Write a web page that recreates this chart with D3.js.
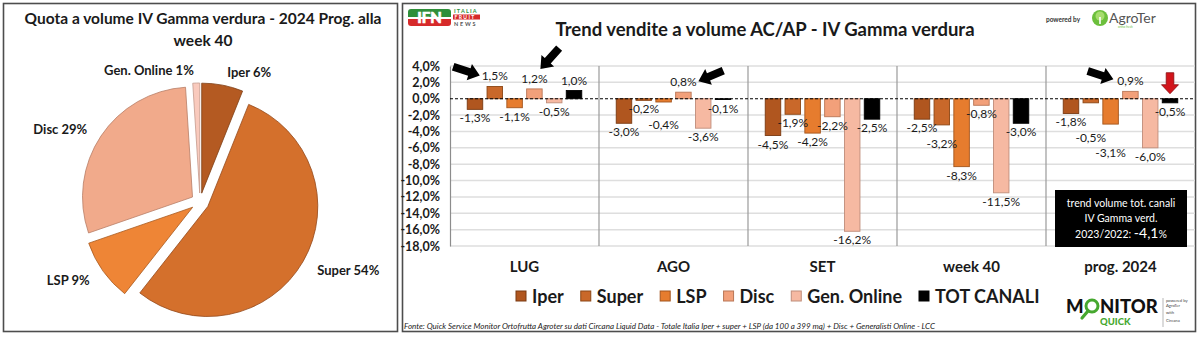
<!DOCTYPE html>
<html>
<head>
<meta charset="utf-8">
<script src="https://cdn.jsdelivr.net/npm/d3@7"></script>
<style>
  html, body { margin: 0; padding: 0; background: #fff; }
  svg { display: block; font-family: Lato, "Open Sans", sans-serif; }
</style>
</head>
<body>
<svg id="chart" width="1200" height="338"></svg>
<script>
// ---- Share of volume, 2024 progressive to week 40 ----
const shareLabels = ["Iper", "Super", "LSP", "Disc", "Gen. Online"];
const shareValues = [6, 54, 9, 29, 1];

// ---- Volume trend AC/AP by channel ----
const categories = ["LUG", "AGO", "SET", "week 40", "prog. 2024"];
const seriesNames = ["Iper", "Super", "LSP", "Disc", "Gen. Online", "TOT CANALI"];
const iper      = [-1.3, -3.0, -4.5, -2.5, -1.8];
const superMkt  = [ 1.5, -0.2, -1.9, -3.2, -0.5];
const lsp       = [-1.1, -0.4, -4.2, -8.3, -3.1];
const disc      = [ 1.2,  0.8, -2.2, -0.8,  0.9];
const genOnline = [-0.5, -3.6, -16.2, -11.5, -6.0];
const totCanali = [ 1.0, -0.1, -2.5, -3.0, -0.5];
const yTicks = [4, 2, 0, -2, -4, -6, -8, -10, -12, -14, -16, -18];
const totalTrend2023 = -4.1;

const seriesValues = [iper, superMkt, lsp, disc, genOnline, totCanali];

const svg = d3.select("#chart");
const fmt = v => v.toFixed(1).replace(".", ",") + "%";

// ---------- panel frames ----------
svg.append("rect").attr("x", 3.5).attr("y", 3.5).attr("width", 394).attr("height", 328)
  .attr("fill", "#fff").attr("stroke", "#4d4d4d").attr("stroke-width", 1.6);
svg.append("rect").attr("x", 402.5).attr("y", 3.5).attr("width", 793).attr("height", 328)
  .attr("fill", "#fff").attr("stroke", "#4d4d4d").attr("stroke-width", 1.6);

// ---------- pie ----------
const pieColors = ["#b45a22", "#d4702c", "#ee8536", "#f1aa8b", "#f9cabd"];
const pieStroke = ["#7d3d14", "#94491a", "#a85a20", "#b77d66", "#c49a8d"];
const pieG = svg.append("g").attr("transform", "translate(200,202)");
const pie = d3.pie().sort(null).value(d => d)(shareValues);
const arc = d3.arc().innerRadius(0).outerRadius(110);
const explode = 9;
pie.forEach((p, i) => {
  const mid = (p.startAngle + p.endAngle) / 2;
  const dx = Math.sin(mid) * explode, dy = -Math.cos(mid) * explode;
  pieG.append("path").attr("d", arc(p))
    .attr("transform", `translate(${dx},${dy})`)
    .attr("fill", pieColors[i]).attr("stroke", pieStroke[i]).attr("stroke-width", 0.8);
  const lr = 133;
  const lx = Math.sin(mid) * lr, ly = -Math.cos(mid) * lr;
  pieG.append("text")
    .attr("x", lx + (Math.sin(mid) >= 0 ? 2 : -2)).attr("y", ly + 6)
    .attr("text-anchor", Math.sin(mid) >= 0 ? "start" : "end")
    .attr("font-size", 13).attr("font-weight", 700).attr("fill", "#1a1a1a")
    .text(`${shareLabels[i]} ${shareValues[i]}%`);
});
svg.append("text").attr("x", 203).attr("y", 24).attr("text-anchor", "middle")
  .attr("font-size", 15.5).attr("font-weight", 700).attr("fill", "#1a1a1a")
  .text("Quota a volume IV Gamma verdura - 2024 Prog. alla");
svg.append("text").attr("x", 203).attr("y", 46).attr("text-anchor", "middle")
  .attr("font-size", 15.5).attr("font-weight", 700).attr("fill", "#1a1a1a")
  .text("week 40");

// ---------- bar chart ----------
const barColors  = ["#b0561f", "#c9682a", "#e67c2e", "#f2a07a", "#f6b9a2", "#000000"];
const barStrokes = ["#7a3a12", "#8c4716", "#a3551d", "#b97656", "#bf8d7b", "#000000"];

const x0 = d3.scaleBand().domain(categories).range([450, 1195]).padding(0);
const x1 = d3.scaleBand().domain(d3.range(seriesNames.length))
  .range([0, x0.bandwidth()]).paddingInner(0.217).paddingOuter(0.87);
const y = d3.scaleLinear().domain([-18, 4]).range([246, 66]);

// grid
svg.append("g").selectAll("line").data(yTicks.filter(t => t !== 0)).join("line")
  .attr("x1", 450).attr("x2", 1195)
  .attr("y1", d => y(d)).attr("y2", d => y(d))
  .attr("stroke", "#dedede").attr("stroke-width", 1.5);

// y axis
const yAxis = d3.axisLeft(y).tickValues(yTicks).tickFormat(fmt).tickSize(0).tickPadding(10);
const yg = svg.append("g").attr("transform", "translate(450,0)").call(yAxis);
yg.select(".domain").attr("stroke", "#8c8c8c").attr("stroke-width", 1.2);
yg.selectAll("text").attr("font-size", 12.5).attr("font-weight", 700)
  .attr("fill", "#1a1a1a").attr("font-family", "Lato, sans-serif");

// group dividers
svg.append("g").selectAll("line").data(categories.slice(1)).join("line")
  .attr("x1", d => x0(d)).attr("x2", d => x0(d))
  .attr("y1", y(4)).attr("y2", y(-18))
  .attr("stroke", "#9a9a9a").attr("stroke-width", 1.2);

// bars
const barData = [];
categories.forEach((c, ci) => seriesValues.forEach((vals, si) =>
  barData.push({ cat: c, s: si, v: vals[ci] })));

svg.append("g").selectAll("rect").data(barData).join("rect")
  .attr("x", d => x0(d.cat) + x1(d.s))
  .attr("width", x1.bandwidth())
  .attr("y", d => y(Math.max(0, d.v)))
  .attr("height", d => Math.abs(y(d.v) - y(0)))
  .attr("fill", d => barColors[d.s])
  .attr("stroke", d => barStrokes[d.s]).attr("stroke-width", 0.9);

// zero line
svg.append("line").attr("x1", 450).attr("x2", 1195).attr("y1", y(0)).attr("y2", y(0))
  .attr("stroke", "#000").attr("stroke-width", 1.2).attr("stroke-dasharray", "3,2");

// value labels
const labelX = d => x0(d.cat) + x1(d.s) + x1.bandwidth() / 2;
const labelY = d => d.v >= 0 ? y(d.v) - 6 : y(d.v) + 13;
const valueLabels = svg.append("g").selectAll("text").data(barData).join("text")
  .attr("x", labelX).attr("y", labelY)
  .attr("text-anchor", "middle").attr("font-size", 12).attr("fill", "#1a1a1a")
  .text(d => fmt(d.v));

// push colliding labels (within one month) further away from the bars
{
  const placed = [];
  valueLabels.each(function (d) {
    const sel = d3.select(this);
    let b = this.getBBox();
    let guard = 0;
    let hit;
    while ((hit = placed.find(p => p.cat === d.cat &&
        b.x < p.x + p.width && b.x + b.width > p.x &&
        b.y < p.y + p.height && b.y + b.height > p.y)) && guard++ < 5) {
      const shift = d.v < 0 ? (hit.y + hit.height - b.y + 0.5) : -(b.y + b.height - hit.y + 0.5);
      sel.attr("y", +sel.attr("y") + shift);
      b = this.getBBox();
    }
    placed.push({ cat: d.cat, x: b.x, y: b.y, width: b.width, height: b.height });
  });
}

// category labels
svg.append("g").selectAll("text").data(categories).join("text")
  .attr("x", d => x0(d) + x0.bandwidth() / 2).attr("y", 272)
  .attr("text-anchor", "middle").attr("font-size", 15).attr("font-weight", 700)
  .attr("fill", "#1a1a1a").text(d => d);

// legend
const legend = svg.append("g");
let lx = 516;
seriesNames.forEach((name, i) => {
  legend.append("rect").attr("x", lx).attr("y", 291).attr("width", 10).attr("height", 10)
    .attr("fill", barColors[i]).attr("stroke", barStrokes[i]).attr("stroke-width", 1);
  const t = legend.append("text").attr("x", lx + 16).attr("y", 303)
    .attr("font-size", 18).attr("font-weight", 700).attr("fill", "#1a1a1a").text(name);
  lx += 16 + t.node().getComputedTextLength() + 17;
});

// arrows pointing at selected values
function blockArrow(tipX, tipY, angleDeg, len, shaftHalf, headHalf, headLen) {
  const pts = [[0, 0], [-headLen, -headHalf], [-headLen, -shaftHalf], [-len, -shaftHalf],
               [-len, shaftHalf], [-headLen, shaftHalf], [-headLen, headHalf]];
  const a = angleDeg * Math.PI / 180;
  return "M" + pts.map(([px, py]) =>
    [tipX + px * Math.cos(a) - py * Math.sin(a), tipY + px * Math.sin(a) + py * Math.cos(a)].join(","))
    .join("L") + "Z";
}
const pointAt = (cat, s) => {
  const d = { cat, s, v: seriesValues[s][categories.indexOf(cat)] };
  return [labelX(d), labelY(d), d];
};
const arrowsG = svg.append("g");
{
  let [lxA, lyA] = pointAt("LUG", 1);
  arrowsG.append("path").attr("d", blockArrow(lxA - 15, lyA - 5, 18, 28, 4, 8.5, 11)).attr("fill", "#000");
  [lxA, lyA] = pointAt("LUG", 3);
  arrowsG.append("path").attr("d", blockArrow(lxA + 6, lyA - 14, 132, 28, 4, 8.5, 11)).attr("fill", "#000");
  [lxA, lyA] = pointAt("AGO", 3);
  arrowsG.append("path").attr("d", blockArrow(lxA + 15, lyA - 5, 157, 27, 4, 8.5, 11)).attr("fill", "#000");
  [lxA, lyA] = pointAt("prog. 2024", 3);
  arrowsG.append("path").attr("d", blockArrow(lxA - 17, lyA - 6, 18, 27, 4, 8.5, 11)).attr("fill", "#000");
  const tx = x0("prog. 2024") + x1(5) + x1.bandwidth() / 2;
  arrowsG.append("path").attr("d", blockArrow(tx, y(0) - 5, 90, 21, 3.8, 8.5, 9))
    .attr("fill", "#d2141b").attr("stroke", "#8a0d10").attr("stroke-width", 0.8);
}

// total trend box
const boxG = svg.append("g");
boxG.append("rect").attr("x", 1055).attr("y", 190).attr("width", 132).attr("height", 57).attr("fill", "#000");
boxG.append("text").attr("x", 1121).attr("y", 207).attr("text-anchor", "middle")
  .attr("font-size", 10.5).attr("fill", "#fff").text("trend volume tot. canali");
boxG.append("text").attr("x", 1121).attr("y", 222).attr("text-anchor", "middle")
  .attr("font-size", 10.5).attr("fill", "#fff").text("IV Gamma verd.");
const bt = boxG.append("text").attr("x", 1121).attr("y", 238).attr("text-anchor", "middle")
  .attr("font-size", 10.5).attr("fill", "#fff");
bt.append("tspan").text("2023/2022: ");
bt.append("tspan").attr("font-size", 14).text(totalTrend2023.toFixed(1).replace(".", ","));
bt.append("tspan").text("%");

// titles
svg.append("text").attr("x", 765).attr("y", 36).attr("text-anchor", "middle")
  .attr("font-size", 18.5).attr("font-weight", 700).attr("fill", "#1a1a1a")
  .text("Trend vendite a volume AC/AP - IV Gamma verdura");

// footer
svg.append("text").attr("x", 404).attr("y", 328.5)
  .attr("font-size", 8.3).attr("font-style", "italic").attr("fill", "#1a1a1a")
  .attr("textLength", 531).attr("lengthAdjust", "spacingAndGlyphs")
  .text("Fonte: Quick Service Monitor Ortofrutta Agroter su dati Circana Liquid Data - Totale Italia Iper + super + LSP (da 100 a 399 mq) + Disc + Generalisti Online - LCC");

// ---------- logos ----------
const defs = svg.append("defs");
const gIfn = defs.append("linearGradient").attr("id", "ifnGrad").attr("x1", 0).attr("y1", 0).attr("x2", 0).attr("y2", 1);
[["0%", "#2f8f3a"], ["45%", "#2f8f3a"], ["45%", "#ffffff"], ["58%", "#ffffff"], ["58%", "#d62a2a"], ["100%", "#d62a2a"]]
  .forEach(([o, c]) => gIfn.append("stop").attr("offset", o).attr("stop-color", c));
svg.append("rect").attr("x", 408).attr("y", 9).attr("width", 43).attr("height", 17).attr("rx", 3)
  .attr("fill", "url(#ifnGrad)");
svg.append("text").attr("x", 429.5).attr("y", 23).attr("text-anchor", "middle")
  .attr("font-size", 15).attr("font-weight", 900).attr("fill", "#fff")
  .attr("stroke", "#fff").attr("stroke-width", 0.6).text("IFN");
svg.append("text").attr("x", 454).attr("y", 13).attr("font-size", 5.5).attr("font-weight", 700)
  .attr("fill", "#2f8f3a").attr("letter-spacing", 1.2).text("ITALIA");
svg.append("rect").attr("x", 453).attr("y", 14.5).attr("width", 27).attr("height", 5).attr("fill", "#d62a2a");
svg.append("text").attr("x", 454.5).attr("y", 19).attr("font-size", 5).attr("font-weight", 700)
  .attr("fill", "#fff").attr("letter-spacing", 1.4).text("FRUIT");
svg.append("text").attr("x", 454).attr("y", 25.5).attr("font-size", 5.5).attr("font-weight", 700)
  .attr("fill", "#555").attr("letter-spacing", 1.8).text("NEWS");

svg.append("text").attr("x", 1046).attr("y", 22).attr("font-size", 6.5).attr("font-weight", 700)
  .attr("fill", "#333").text("powered by");
svg.append("circle").attr("cx", 1100).attr("cy", 18).attr("r", 8).attr("fill", "#6cbf3c");
svg.append("circle").attr("cx", 1100).attr("cy", 16).attr("r", 4.5).attr("fill", "#a6dd6d");
svg.append("rect").attr("x", 1099.2).attr("y", 17).attr("width", 1.6).attr("height", 7).attr("fill", "#fff");
svg.append("text").attr("x", 1109).attr("y", 23).attr("font-size", 14).attr("fill", "#555").text("AgroTer");
svg.append("text").attr("x", 1118).attr("y", 28).attr("font-size", 3).attr("fill", "#6cbf3c").text("ortho fresh");

// Monitor Quick
svg.append("text").attr("x", 1066).attr("y", 313).attr("font-size", 18.5).attr("font-weight", 900)
  .attr("fill", "#111").text("M");
svg.append("circle").attr("cx", 1092).attr("cy", 306).attr("r", 6).attr("fill", "none")
  .attr("stroke", "#46a82f").attr("stroke-width", 3);
svg.append("line").attr("x1", 1088).attr("y1", 311).attr("x2", 1082).attr("y2", 318)
  .attr("stroke", "#46a82f").attr("stroke-width", 3.2).attr("stroke-linecap", "round");
svg.append("text").attr("x", 1100).attr("y", 313).attr("font-size", 18.5).attr("font-weight", 900)
  .attr("fill", "#111").text("NITOR");
svg.append("text").attr("x", 1100).attr("y", 325).attr("font-size", 9.5).attr("font-weight", 900)
  .attr("fill", "#46a82f").text("QUICK");
svg.append("line").attr("x1", 1163).attr("x2", 1163).attr("y1", 298).attr("y2", 327)
  .attr("stroke", "#999").attr("stroke-width", 0.7);
[["powered by", 302], ["AgroTer", 307], ["with", 314], ["Circana", 322]].forEach(([t, yy]) =>
  svg.append("text").attr("x", 1166).attr("y", yy).attr("font-size", 4.2).attr("fill", "#444").text(t));
</script>
</body>
</html>
